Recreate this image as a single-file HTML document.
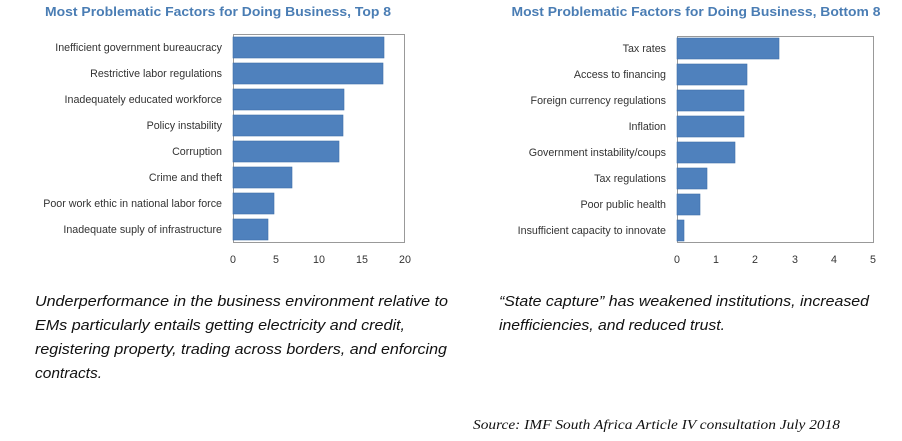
<!DOCTYPE html>
<html><head><meta charset="utf-8"><style>
html,body{margin:0;padding:0;background:#fff;}
svg{display:block;}
</style></head><body>
<svg width="902" height="441" viewBox="0 0 902 441" xmlns="http://www.w3.org/2000/svg">
<g font-family="Liberation Sans, sans-serif">
<!-- Left chart -->
<text x="218" y="16" text-anchor="middle" font-size="13" font-weight="bold" fill="#4a7db4" textLength="346" lengthAdjust="spacingAndGlyphs">Most Problematic Factors for Doing Business, Top 8</text>
<rect x="233.5" y="34.5" width="171" height="208" fill="none" stroke="#999" stroke-width="1"/>
<g fill="#4f81bd" stroke="#3f6fa8" stroke-width="0.6">
<rect x="233" y="37" width="151" height="21"/>
<rect x="233" y="63" width="150" height="21"/>
<rect x="233" y="89" width="111" height="21"/>
<rect x="233" y="115" width="110" height="21"/>
<rect x="233" y="141" width="106" height="21"/>
<rect x="233" y="167" width="59" height="21"/>
<rect x="233" y="193" width="41" height="21"/>
<rect x="233" y="219" width="35" height="21"/>
</g>
<g font-size="10.7" fill="#333" text-anchor="end">
<text x="222" y="51">Inefficient government bureaucracy</text>
<text x="222" y="77">Restrictive labor regulations</text>
<text x="222" y="103">Inadequately educated workforce</text>
<text x="222" y="129">Policy instability</text>
<text x="222" y="155">Corruption</text>
<text x="222" y="181">Crime and theft</text>
<text x="222" y="207">Poor work ethic in national labor force</text>
<text x="222" y="233">Inadequate suply of infrastructure</text>
</g>
<g font-size="10.7" fill="#333" text-anchor="middle">
<text x="233" y="263">0</text><text x="276" y="263">5</text><text x="319" y="263">10</text><text x="362" y="263">15</text><text x="405" y="263">20</text>
</g>
<!-- Right chart -->
<text x="696" y="16" text-anchor="middle" font-size="13" font-weight="bold" fill="#4a7db4" textLength="369" lengthAdjust="spacingAndGlyphs">Most Problematic Factors for Doing Business, Bottom 8</text>
<rect x="677.5" y="36.5" width="196" height="206" fill="none" stroke="#999" stroke-width="1"/>
<g fill="#4f81bd" stroke="#3f6fa8" stroke-width="0.6">
<rect x="677" y="38" width="102" height="21"/>
<rect x="677" y="64" width="70" height="21"/>
<rect x="677" y="90" width="67" height="21"/>
<rect x="677" y="116" width="67" height="21"/>
<rect x="677" y="142" width="58" height="21"/>
<rect x="677" y="168" width="30" height="21"/>
<rect x="677" y="194" width="23" height="21"/>
<rect x="677" y="220" width="7" height="21"/>
</g>
<g font-size="10.7" fill="#333" text-anchor="end">
<text x="666" y="52">Tax rates</text>
<text x="666" y="78">Access to financing</text>
<text x="666" y="104">Foreign currency regulations</text>
<text x="666" y="130">Inflation</text>
<text x="666" y="156">Government instability/coups</text>
<text x="666" y="182">Tax regulations</text>
<text x="666" y="208">Poor public health</text>
<text x="666" y="234">Insufficient capacity to innovate</text>
</g>
<g font-size="10.7" fill="#333" text-anchor="middle">
<text x="677" y="263">0</text><text x="716" y="263">1</text><text x="755" y="263">2</text><text x="795" y="263">3</text><text x="834" y="263">4</text><text x="873" y="263">5</text>
</g>
<!-- Captions -->
<g font-size="15" font-style="italic" fill="#111">
<text x="35" y="306" textLength="413" lengthAdjust="spacingAndGlyphs">Underperformance in the business environment relative to</text>
<text x="35" y="330" textLength="370" lengthAdjust="spacingAndGlyphs">EMs particularly entails getting electricity and credit,</text>
<text x="35" y="354" textLength="412" lengthAdjust="spacingAndGlyphs">registering property, trading across borders, and enforcing</text>
<text x="35" y="378" textLength="67" lengthAdjust="spacingAndGlyphs">contracts.</text>
<text x="499" y="306" textLength="370" lengthAdjust="spacingAndGlyphs">“State capture” has weakened institutions, increased</text>
<text x="499" y="330" textLength="226" lengthAdjust="spacingAndGlyphs">inefficiencies, and reduced trust.</text>
</g>
<text x="473" y="429" font-family="Liberation Serif, serif" font-size="13.5" font-style="italic" fill="#111" textLength="367" lengthAdjust="spacingAndGlyphs">Source: IMF South Africa Article IV consultation July 2018</text>
</g>
</svg>
</body></html>
